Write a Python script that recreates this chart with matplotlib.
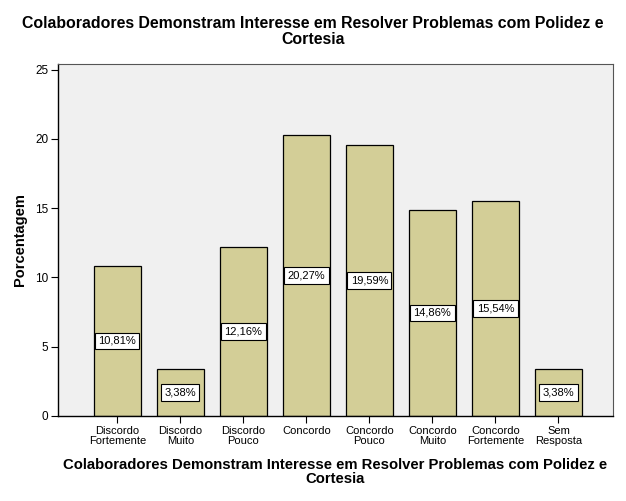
import matplotlib
matplotlib.use("Agg")
from matplotlib import pyplot as plt

# dados
categorias = [
    "Discordo\nFortemente",
    "Discordo\nMuito",
    "Discordo\nPouco",
    "Concordo",
    "Concordo\nPouco",
    "Concordo\nMuito",
    "Concordo\nFortemente",
    "Sem\nResposta",
]
porcentagens = [10.81, 3.38, 12.16, 20.27, 19.59, 14.86, 15.54, 3.38]
rotulos = ["10,81%", "3,38%", "12,16%", "20,27%", "19,59%", "14,86%", "15,54%", "3,38%"]
titulo = "Colaboradores Demonstram Interesse em Resolver Problemas com Polidez e\nCortesia"

plt.rcParams["font.family"] = ["Liberation Sans", "DejaVu Sans"]

fig = plt.figure(figsize=(6.26, 5.01), dpi=100)
ax = fig.add_axes([0.0927, 0.170, 0.886, 0.702])
ax.set_facecolor("#F0F0F0")

x = range(len(categorias))
ax.bar(x, porcentagens, width=0.745, color="#D3CE97", edgecolor="black", linewidth=0.9)

for xi, v, txt in zip(x, porcentagens, rotulos):
    ax.text(xi, v / 2, txt, ha="center", va="center", fontsize=8,
            bbox=dict(boxstyle="square,pad=0.3", facecolor="white", edgecolor="black", linewidth=0.8))

ax.set_xlim(-0.94, 7.86)
ax.set_ylim(0, 25.4)
ax.set_yticks([0, 5, 10, 15, 20, 25])
ax.set_xticks(list(x))
ax.set_xticklabels(categorias, fontsize=8, linespacing=1.0)
ax.tick_params(axis="y", labelsize=8.5, length=5, width=0.8, pad=2)
ax.tick_params(axis="x", length=5, width=0.8, pad=2)

for lado in ["top", "right"]:
    ax.spines[lado].set_color("#555555")
    ax.spines[lado].set_linewidth(0.8)
ax.spines["left"].set_linewidth(1.0)
ax.spines["bottom"].set_linewidth(1.0)

ax.set_ylabel("Porcentagem", fontsize=10.5, fontweight="bold", labelpad=6)
ax.set_xlabel(titulo, fontsize=10.7, fontweight="bold", labelpad=9, linespacing=1.0)
fig.text(0.5, 0.968, titulo, ha="center", va="top", fontsize=11.4, fontweight="bold", linespacing=1.05)

plt.savefig("out.png", dpi=100)
plt.close()
